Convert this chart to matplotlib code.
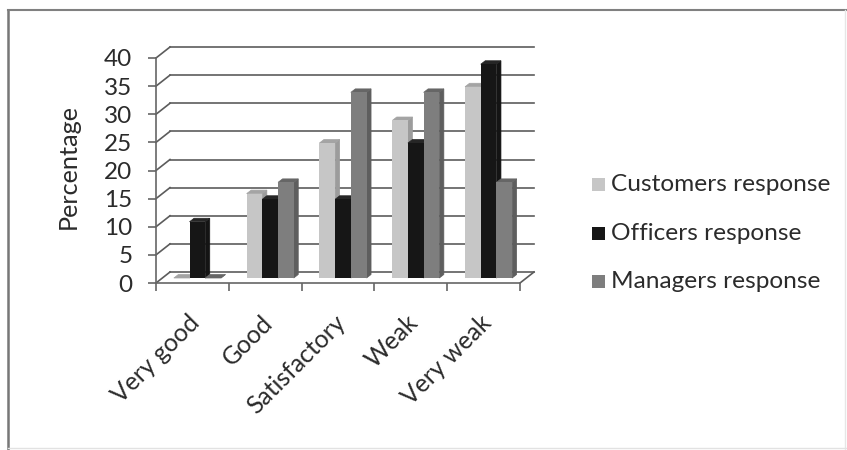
import matplotlib
matplotlib.use('Agg')
import matplotlib.pyplot as plt
from matplotlib.lines import Line2D
from matplotlib.patches import Polygon, Rectangle
import numpy as np

plt.rcParams['font.family']=['Lato','DejaVu Sans']

categories=['Very good','Good','Satisfactory','Weak','Very weak']
customers=[0,15,24,28,34]
officers=[10,14,14,24,38]
managers=[0,17,33,33,17]
series_names=['Customers response','Officers response','Managers response']
yticks=[0,5,10,15,20,25,30,35,40]

W,H=847,450
fig=plt.figure(figsize=(W/100,H/100),dpi=100,facecolor='white')

def frame_line(x0,y0,x1,y1,col,lw):
    fig.add_artist(Line2D([x0/W,x1/W],[1-y0/H,1-y1/H],transform=fig.transFigure,color=col,lw=lw))

# frame around the chart, left and top are the heavier edges
frame_line(7.5,10,7.5,449,'#777777',1.8)
frame_line(7.5,10,846,10,'#808080',1.5)
frame_line(845,10,845,449,'#e6e6e6',1)
frame_line(8,448,846,448,'#e2e2e2',1)

ax=fig.add_axes([156/W,1-283/H,364/W,225/H])
ax.set_xlim(0,5)
ax.set_ylim(0,40)
for s in ['top','right']:
    ax.spines[s].set_visible(False)
for s in ['left','bottom']:
    ax.spines[s].set_color('#666666')
    ax.spines[s].set_linewidth(1.2)

# depth of the 3d box, in data units
box_dx=14/72.8
box_dy=11/5.625
grid_col='#5c5c5c'
for v in yticks:
    ax.plot([0,box_dx],[v,v+box_dy],color=grid_col,lw=1.2,clip_on=False,zorder=1)
    ax.plot([box_dx,5+box_dx],[v+box_dy,v+box_dy],color=grid_col,lw=1.2,clip_on=False,zorder=1)
ax.plot([5,5+box_dx],[0,box_dy],color=grid_col,lw=1.2,clip_on=False,zorder=1)

bar_w=15.7/72.8
base_dx=5/72.8
base_dy=5/5.625
dep_x=4.5/72.8
dep_y=3.5/5.625
face_cols=['#c6c6c6','#161616','#7e7e7e']
side_cols=['#9c9c9c','#141414','#5e5e5e']
top_cols=['#a4a4a4','#262626','#666666']

x=np.arange(5)+0.5
z=3
for i,vals in enumerate([customers,officers,managers]):
    for j,v in enumerate(vals):
        x0=x[j]+base_dx+(i-1.5)*bar_w
        x1=x0+bar_w
        y0=base_dy
        y1=base_dy+v
        # side, top, then front so nearer faces overlap
        ax.add_patch(Polygon([(x1,y0),(x1+dep_x,y0+dep_y),(x1+dep_x,y1+dep_y),(x1,y1)],
                             facecolor=side_cols[i],edgecolor=side_cols[i],lw=0.5,
                             clip_on=False,zorder=z))
        ax.add_patch(Polygon([(x0,y1),(x0+dep_x,y1+dep_y),(x1+dep_x,y1+dep_y),(x1,y1)],
                             facecolor=top_cols[i],edgecolor=top_cols[i],lw=0.5,
                             clip_on=False,zorder=z))
        ax.bar(x0,v,width=bar_w,bottom=y0,align='edge',color=face_cols[i],
               clip_on=False,zorder=z)
    z+=1

text_col='#2b2b2b'
ax.set_yticks(yticks)
ax.set_xticks(range(6))
ax.set_xticklabels([])
ax.tick_params(axis='y',length=6,width=1.2,color='#666666',labelsize=17.5,
               labelcolor=text_col,pad=11)
ax.tick_params(axis='x',length=6,width=1.2,color='#666666',direction='out')
ax.set_ylabel('Percentage',fontsize=18.2,color=text_col)
ax.yaxis.set_label_coords(-76/364,0.517)

for xc,name in zip(x,categories):
    ax.annotate(name,xy=(xc-0.06,0),xytext=(0,-20),textcoords='offset points',
                rotation=45,ha='right',va='top',rotation_mode='anchor',
                fontsize=17.8,color=text_col,annotation_clip=False)

# legend entries
for i,name in enumerate(series_names):
    py=184.5+i*48.5
    fig.add_artist(Rectangle((592/W,1-(py+6.5)/H),13/W,13/H,transform=fig.transFigure,
                             facecolor=face_cols[i],edgecolor='none'))
    fig.text(611/W,1-py/H,name,fontsize=17.6,color=text_col,va='center',ha='left')

fig.savefig('out.png',dpi=100)
